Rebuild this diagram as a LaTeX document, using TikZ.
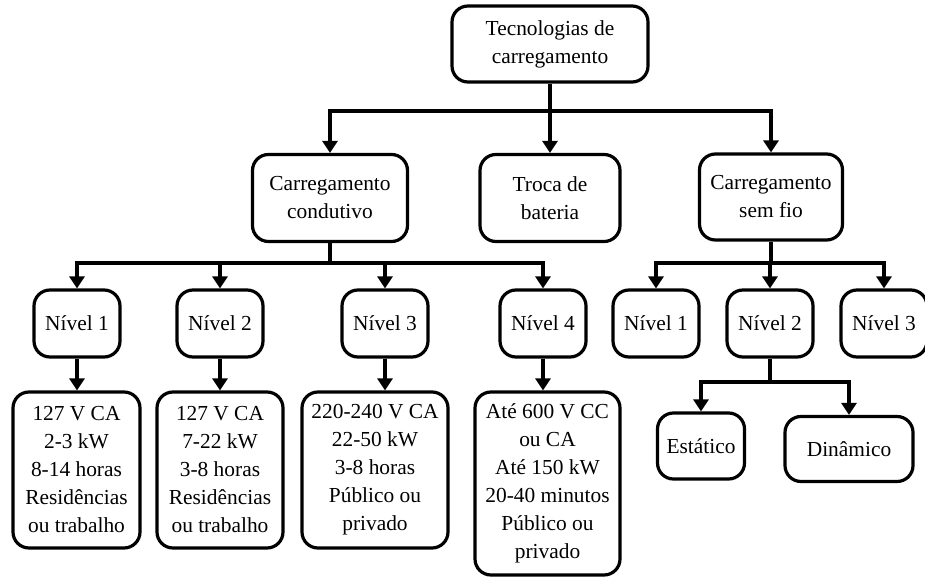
\documentclass[tikz,border=0pt]{standalone}
\usepackage{fontspec}
\setmainfont{Liberation Serif}
\usetikzlibrary{arrows.meta}
\begin{document}
\begin{tikzpicture}[x=0.5pt,y=-0.5pt,
  box/.style={draw,line width=1.6pt,rounded corners=8pt,align=center,inner sep=0pt,
    font=\fontsize{10.7}{14}\selectfont},
  arr/.style={line width=1.6pt,-{Triangle[width=7.5pt,length=6pt]}},
  ln/.style={line width=1.6pt}]
\useasboundingbox (0,0) rectangle (925,577);

% root
\node[box,minimum width=98pt,minimum height=38pt] (top) at (550,44) {Tecnologias de\\carregamento};

% second level
\node[box,minimum width=77.5pt,minimum height=43.5pt] (cond) at (330,198) {Carregamento\\condutivo};
\node[box,minimum width=70pt,minimum height=43.5pt] (troca) at (550,198) {Troca de\\bateria};
\node[box,minimum width=71.5pt,minimum height=43pt] (wl) at (771,197) {Carregamento\\sem fio};

% conductive levels
\foreach \n/\x in {n1/77,n2/220,n3/385,n4/543}
  \node[box,minimum width=43pt,minimum height=33.5pt] (\n) at (\x,323.5) {};
\node at (n1) [font=\fontsize{10.7}{14}\selectfont] {Nível 1};
\node at (n2) [font=\fontsize{10.7}{14}\selectfont] {Nível 2};
\node at (n3) [font=\fontsize{10.7}{14}\selectfont] {Nível 3};
\node at (n4) [font=\fontsize{10.7}{14}\selectfont] {Nível 4};

% wireless levels
\node[box,minimum width=43pt,minimum height=33.5pt] (w1) at (656,323.5) {Nível 1};
\node[box,minimum width=43pt,minimum height=33.5pt] (w2) at (770,323.5) {Nível 2};
\node[box,minimum width=43pt,minimum height=33.5pt] (w3) at (884,323.5) {Nível 3};

% details of the conductive levels
\node[box,minimum width=63.5pt,minimum height=78pt] (d1) at (76.5,470)
  {127 V CA\\2-3 kW\\8-14 horas\\Residências\\ou trabalho};
\node[box,minimum width=63pt,minimum height=78pt] (d2) at (220,470)
  {127 V CA\\7-22 kW\\3-8 horas\\Residências\\ou trabalho};
\node[box,minimum width=73pt,minimum height=78pt] (d3) at (375,470)
  {220-240 V CA\\22-50 kW\\3-8 horas\\Público ou\\privado};
\node[box,minimum width=72.5pt,minimum height=91.5pt] (d4) at (547.5,483.5)
  {Até 600 V CC\\ou CA\\Até 150 kW\\20-40 minutos\\Público ou\\privado};

% wireless level 2 modes
\node[box,minimum width=43.5pt,minimum height=33pt] (est) at (701,446) {Estático};
\node[box,minimum width=64pt,minimum height=32.5pt] (din) at (849,449) {Dinâmico};

% junctions
\coordinate (j1) at (550,111);
\coordinate (j2) at (330,263);
\coordinate (j3) at (771,263);
\coordinate (j4) at (770,382);

% connectors
\draw[ln] (top.south) -- (j1);
\draw[arr] (j1) -| (cond.north);
\draw[arr] (j1) -- (troca.north);
\draw[arr] (j1) -| (wl.north);

\draw[ln] (cond.south) -- (j2);
\foreach \n in {n1,n2,n3,n4} \draw[arr] (j2) -| (\n.north);

\draw[ln] (wl.south) -- (j3);
\foreach \n in {w1,w2,w3} \draw[arr] (j3) -| (\n.north);

\draw[arr] (n1.south) -- (n1.south |- d1.north);
\draw[arr] (n2.south) -- (n2.south |- d2.north);
\draw[arr] (n3.south) -- (n3.south |- d3.north);
\draw[arr] (n4.south) -- (n4.south |- d4.north);

\draw[ln] (w2.south) -- (j4);
\draw[arr] (j4) -| (est.north);
\draw[arr] (j4) -| (din.north);
\end{tikzpicture}
\end{document}
